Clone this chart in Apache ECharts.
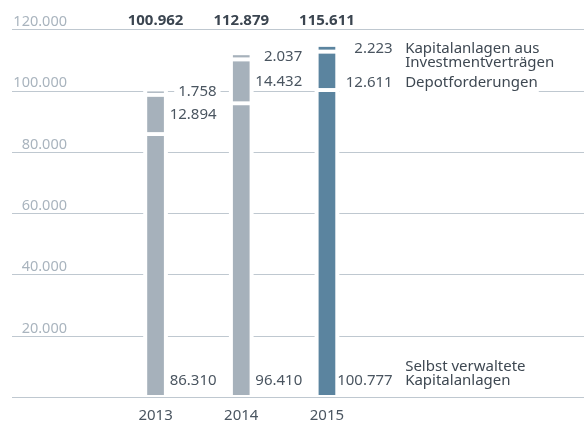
<!DOCTYPE html>
<html>
<head>
<meta charset="utf-8">
<script src="https://cdn.jsdelivr.net/npm/echarts@6/dist/echarts.min.js"></script>
<style>html,body{margin:0;padding:0;background:#fff}#c{width:584px;height:423px}</style>
</head>
<body>
<div id="c"></div>
<script>
// ---- data ----
var years = ['2013', '2014', '2015'];
var selbstVerwaltet = [86310, 96410, 100777];
var depotforderungen = [12894, 14432, 12611];
var investmentvertraege = [1758, 2037, 2223];
var seriesNames = ['Selbst verwaltete\nKapitalanlagen', 'Depotforderungen', 'Kapitalanlagen aus\nInvestmentverträgen'];
var yTicks = [0, 20000, 40000, 60000, 80000, 100000, 120000];

// ---- helpers ----
function fmt(n) { return String(n).replace(/\B(?=(\d{3})+(?!\d))/g, '.'); }
var totals = years.map(function (y, i) { return selbstVerwaltet[i] + depotforderungen[i] + investmentvertraege[i]; });
var FONT = 'Noto Sans';
var ctx = document.createElement('canvas').getContext('2d');
function tw(t, size, weight) { ctx.font = (weight || 'normal') + ' ' + size + 'px "' + FONT + '"'; return ctx.measureText(t).width; }

var gridTop = 29.5, gridBottom = 25.7;
var chart = echarts.init(document.getElementById('c'), null, { renderer: 'canvas' });

var data = years.map(function (y, i) { return [i, selbstVerwaltet[i], depotforderungen[i], investmentvertraege[i], totals[i]]; });

function renderItem(params, api) {
  var idx = api.value(0);
  var vals = [api.value(1), api.value(2), api.value(3)];
  var total = api.value(4);
  var last = idx === years.length - 1;
  var color = last ? '#5b849f' : '#a6b1bb';
  var bw = 16.7, gap = 4, fs = 15;
  var base = api.coord([idx, 0]);
  var cx = base[0], y0 = base[1];
  var yT = api.coord([idx, total])[1];
  var children = [];
  children.push({ type: 'rect', shape: { x: cx - bw / 2 - 4, y: yT - 4, width: bw + 8, height: y0 - yT + 6 }, style: { fill: '#fff' } });
  var cum = 0;
  var labelRight = cx + (last ? 65.7 : 61);
  var nameX = labelRight + 12.5;
  for (var k = 0; k < 3; k++) {
    var ys = api.coord([idx, cum])[1];
    var ye = api.coord([idx, cum + vals[k]])[1];
    children.push({ type: 'rect', shape: { x: cx - bw / 2, y: ye + gap, width: bw, height: Math.max(ys - ye - gap, 0.5) }, style: { fill: color } });
    var ly;
    if (k === 0) ly = y0 - 14;
    else if (k === 1 && last) ly = ys - 5;
    else ly = (ye + gap + ys) / 2;
    var txt = fmt(vals[k]);
    var w = tw(txt, fs);
    var rLeft = labelRight - w - 4, rRight = labelRight + 4;
    if (last) {
      var nl = seriesNames[k].split('\n');
      var nw = Math.max.apply(null, nl.map(function (s) { return tw(s, fs); }));
      rLeft = cx + bw / 2 + 4; rRight = nameX + nw + 1;
    }
    if (k > 0) children.push({ type: 'rect', shape: { x: rLeft, y: ly - 8, width: rRight - rLeft, height: 17 }, style: { fill: '#fff' } });
    children.push({ type: 'text', style: { text: txt, x: labelRight, y: ly, align: 'right', verticalAlign: 'middle', fill: '#4a5560', fontSize: fs, fontFamily: FONT } });
    if (last) {
      var lh = 14.5;
      var ny, va;
      if (k === 0) { ny = ly + lh / 2; va = 'bottom'; }
      else { ny = ly - lh / 2; va = 'top'; }
      children.push({ type: 'text', style: { text: seriesNames[k], x: nameX, y: ny, align: 'left', verticalAlign: va, lineHeight: lh, fill: '#3e4852', fontSize: fs, fontFamily: FONT } });
    }
    cum += vals[k];
  }
  return { type: 'group', children: children };
}

chart.setOption({
  animation: false,
  grid: [
    { left: 12, right: 0, top: gridTop, bottom: gridBottom },
    { left: 112.7, right: 214.2, top: gridTop, bottom: gridBottom }
  ],
  xAxis: [
    { gridIndex: 0, type: 'category', data: years, show: false },
    { gridIndex: 1, type: 'category', data: years, position: 'bottom',
      axisLine: { show: false }, axisTick: { show: false },
      axisLabel: { color: '#4a5560', fontSize: 15, fontFamily: FONT, margin: 13 } },
    { gridIndex: 1, type: 'category', data: years, position: 'top',
      axisLine: { show: false }, axisTick: { show: false },
      axisLabel: { color: '#3b4550', fontSize: 15, fontWeight: 'bold', fontFamily: FONT, margin: 1,
        formatter: function (v, i) { return fmt(totals[i]); } } }
  ],
  yAxis: [
    { gridIndex: 0, type: 'value', min: yTicks[0], max: yTicks[yTicks.length - 1], interval: yTicks[1] - yTicks[0],
      axisLine: { show: false }, axisTick: { show: false },
      splitLine: { lineStyle: { color: '#bfc8d0', width: 1 } },
      axisLabel: { inside: true, align: 'right', margin: 55, verticalAlign: 'bottom', padding: [0, 0, 0, 0],
        color: '#a9b4be', fontSize: 14.5, fontFamily: FONT,
        formatter: function (v) { return v === 0 ? '' : fmt(v); } } },
    { gridIndex: 1, type: 'value', min: yTicks[0], max: yTicks[yTicks.length - 1], show: false }
  ],
  series: [{
    type: 'custom', xAxisIndex: 1, yAxisIndex: 1, data: data, renderItem: renderItem, clip: false
  }]
});
</script>
</body>
</html>
